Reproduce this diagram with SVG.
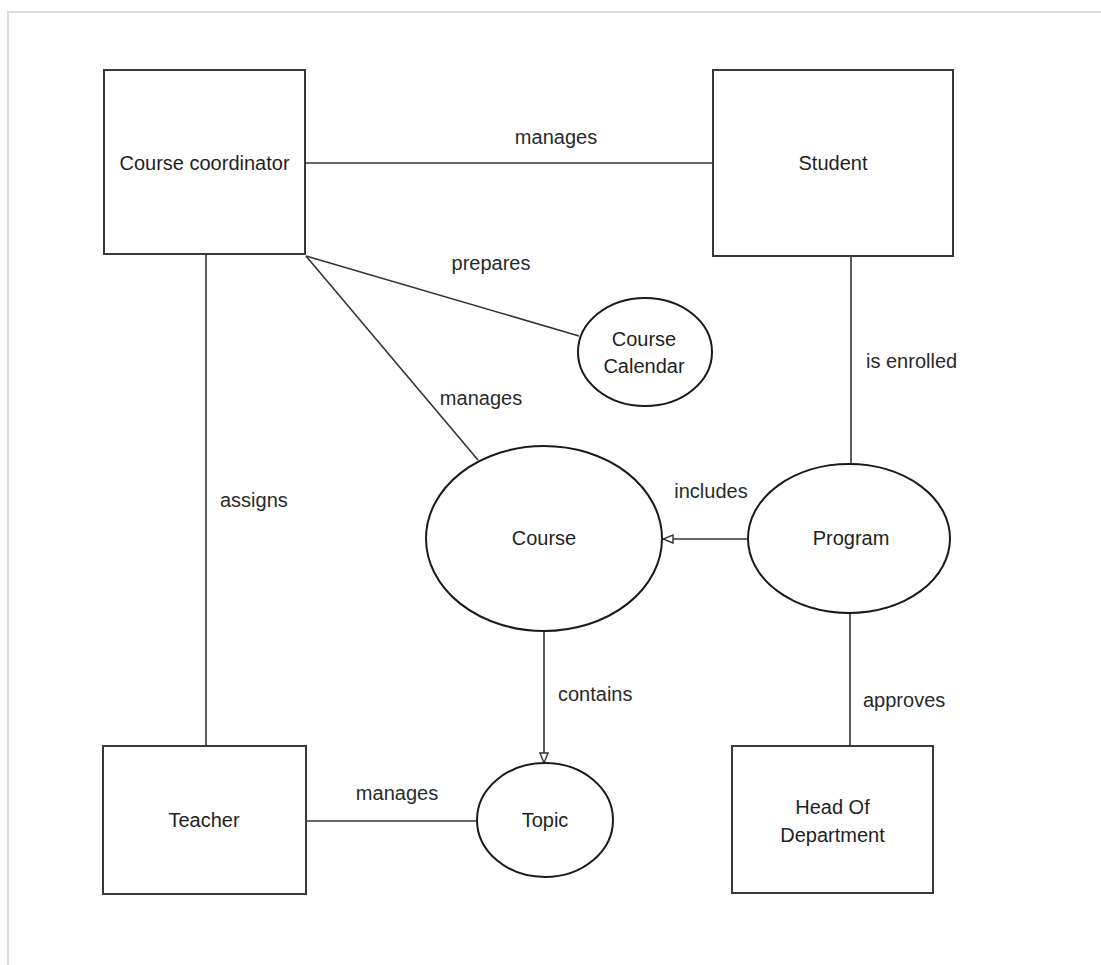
<svg xmlns="http://www.w3.org/2000/svg" width="1101" height="965" viewBox="0 0 1101 965">
  <style>
    .frame { fill: none; stroke: #dcdcdc; stroke-width: 2; }
    .box { fill: #ffffff; stroke: #3a3a3a; stroke-width: 2; }
    .oval { fill: #ffffff; stroke: #1a1a1a; stroke-width: 2; }
    .link { fill: none; stroke: #333333; stroke-width: 1.6; }
    .name { font-family: "Liberation Sans", Arial, sans-serif; font-size: 20px; fill: #1f1f1f; text-anchor: middle; dominant-baseline: central; }
    .label { font-family: "Liberation Sans", Arial, sans-serif; font-size: 20px; fill: #2a2a2a; dominant-baseline: central; }
  </style>
  <defs>
    <marker id="open-arrow" viewBox="0 0 12 10" refX="11" refY="5" markerWidth="12" markerHeight="10" markerUnits="userSpaceOnUse" orient="auto">
      <path d="M1,1 L11,5 L1,9 Z" fill="#ffffff" stroke="#333333" stroke-width="1.4"/>
    </marker>
  </defs>

  <rect width="1101" height="965" fill="#ffffff"/>
  <path class="frame" d="M8,965 L8,12 L1101,12"/>

  <!-- relationships -->
  <g id="connectors">
    <line class="link" x1="305" y1="163" x2="713" y2="163"/>
    <line class="link" x1="206" y1="254" x2="206" y2="746"/>
    <line class="link" x1="306" y1="256" x2="579" y2="336"/>
    <line class="link" x1="306" y1="256" x2="478" y2="460"/>
    <line class="link" x1="851" y1="256" x2="851" y2="464"/>
    <line class="link" x1="748" y1="539" x2="663" y2="539" marker-end="url(#open-arrow)"/>
    <line class="link" x1="544" y1="631" x2="544" y2="763" marker-end="url(#open-arrow)"/>
    <line class="link" x1="850" y1="613" x2="850" y2="746"/>
    <line class="link" x1="306" y1="821" x2="477" y2="821"/>

    <text class="label" x="556" y="137" text-anchor="middle">manages</text>
    <text class="label" x="491" y="263" text-anchor="middle">prepares</text>
    <text class="label" x="481" y="398" text-anchor="middle">manages</text>
    <text class="label" x="866" y="361">is enrolled</text>
    <text class="label" x="711" y="491" text-anchor="middle">includes</text>
    <text class="label" x="220" y="500">assigns</text>
    <text class="label" x="558" y="694">contains</text>
    <text class="label" x="863" y="700">approves</text>
    <text class="label" x="397" y="793" text-anchor="middle">manages</text>
  </g>

  <g id="course-coordinator">
    <rect class="box" x="104" y="70" width="201" height="184"/>
    <text class="name" x="204.5" y="163">Course coordinator</text>
  </g>

  <g id="student">
    <rect class="box" x="713" y="70" width="240" height="186"/>
    <text class="name" x="833" y="163">Student</text>
  </g>

  <g id="course-calendar">
    <ellipse class="oval" cx="645" cy="352" rx="67" ry="54"/>
    <text class="name" x="644" y="339">Course</text>
    <text class="name" x="644" y="366">Calendar</text>
  </g>

  <g id="course">
    <ellipse class="oval" cx="544" cy="538.5" rx="118" ry="92.5"/>
    <text class="name" x="544" y="538">Course</text>
  </g>

  <g id="program">
    <ellipse class="oval" cx="849" cy="538.5" rx="101" ry="74.5"/>
    <text class="name" x="851" y="538">Program</text>
  </g>

  <g id="teacher">
    <rect class="box" x="103" y="746" width="203" height="148"/>
    <text class="name" x="204" y="820">Teacher</text>
  </g>

  <g id="topic">
    <ellipse class="oval" cx="545" cy="820" rx="68" ry="57"/>
    <text class="name" x="545" y="820">Topic</text>
  </g>

  <g id="head-of-department">
    <rect class="box" x="732" y="746" width="201" height="147"/>
    <text class="name" x="832.5" y="807">Head Of</text>
    <text class="name" x="832.5" y="835">Department</text>
  </g>
</svg>
